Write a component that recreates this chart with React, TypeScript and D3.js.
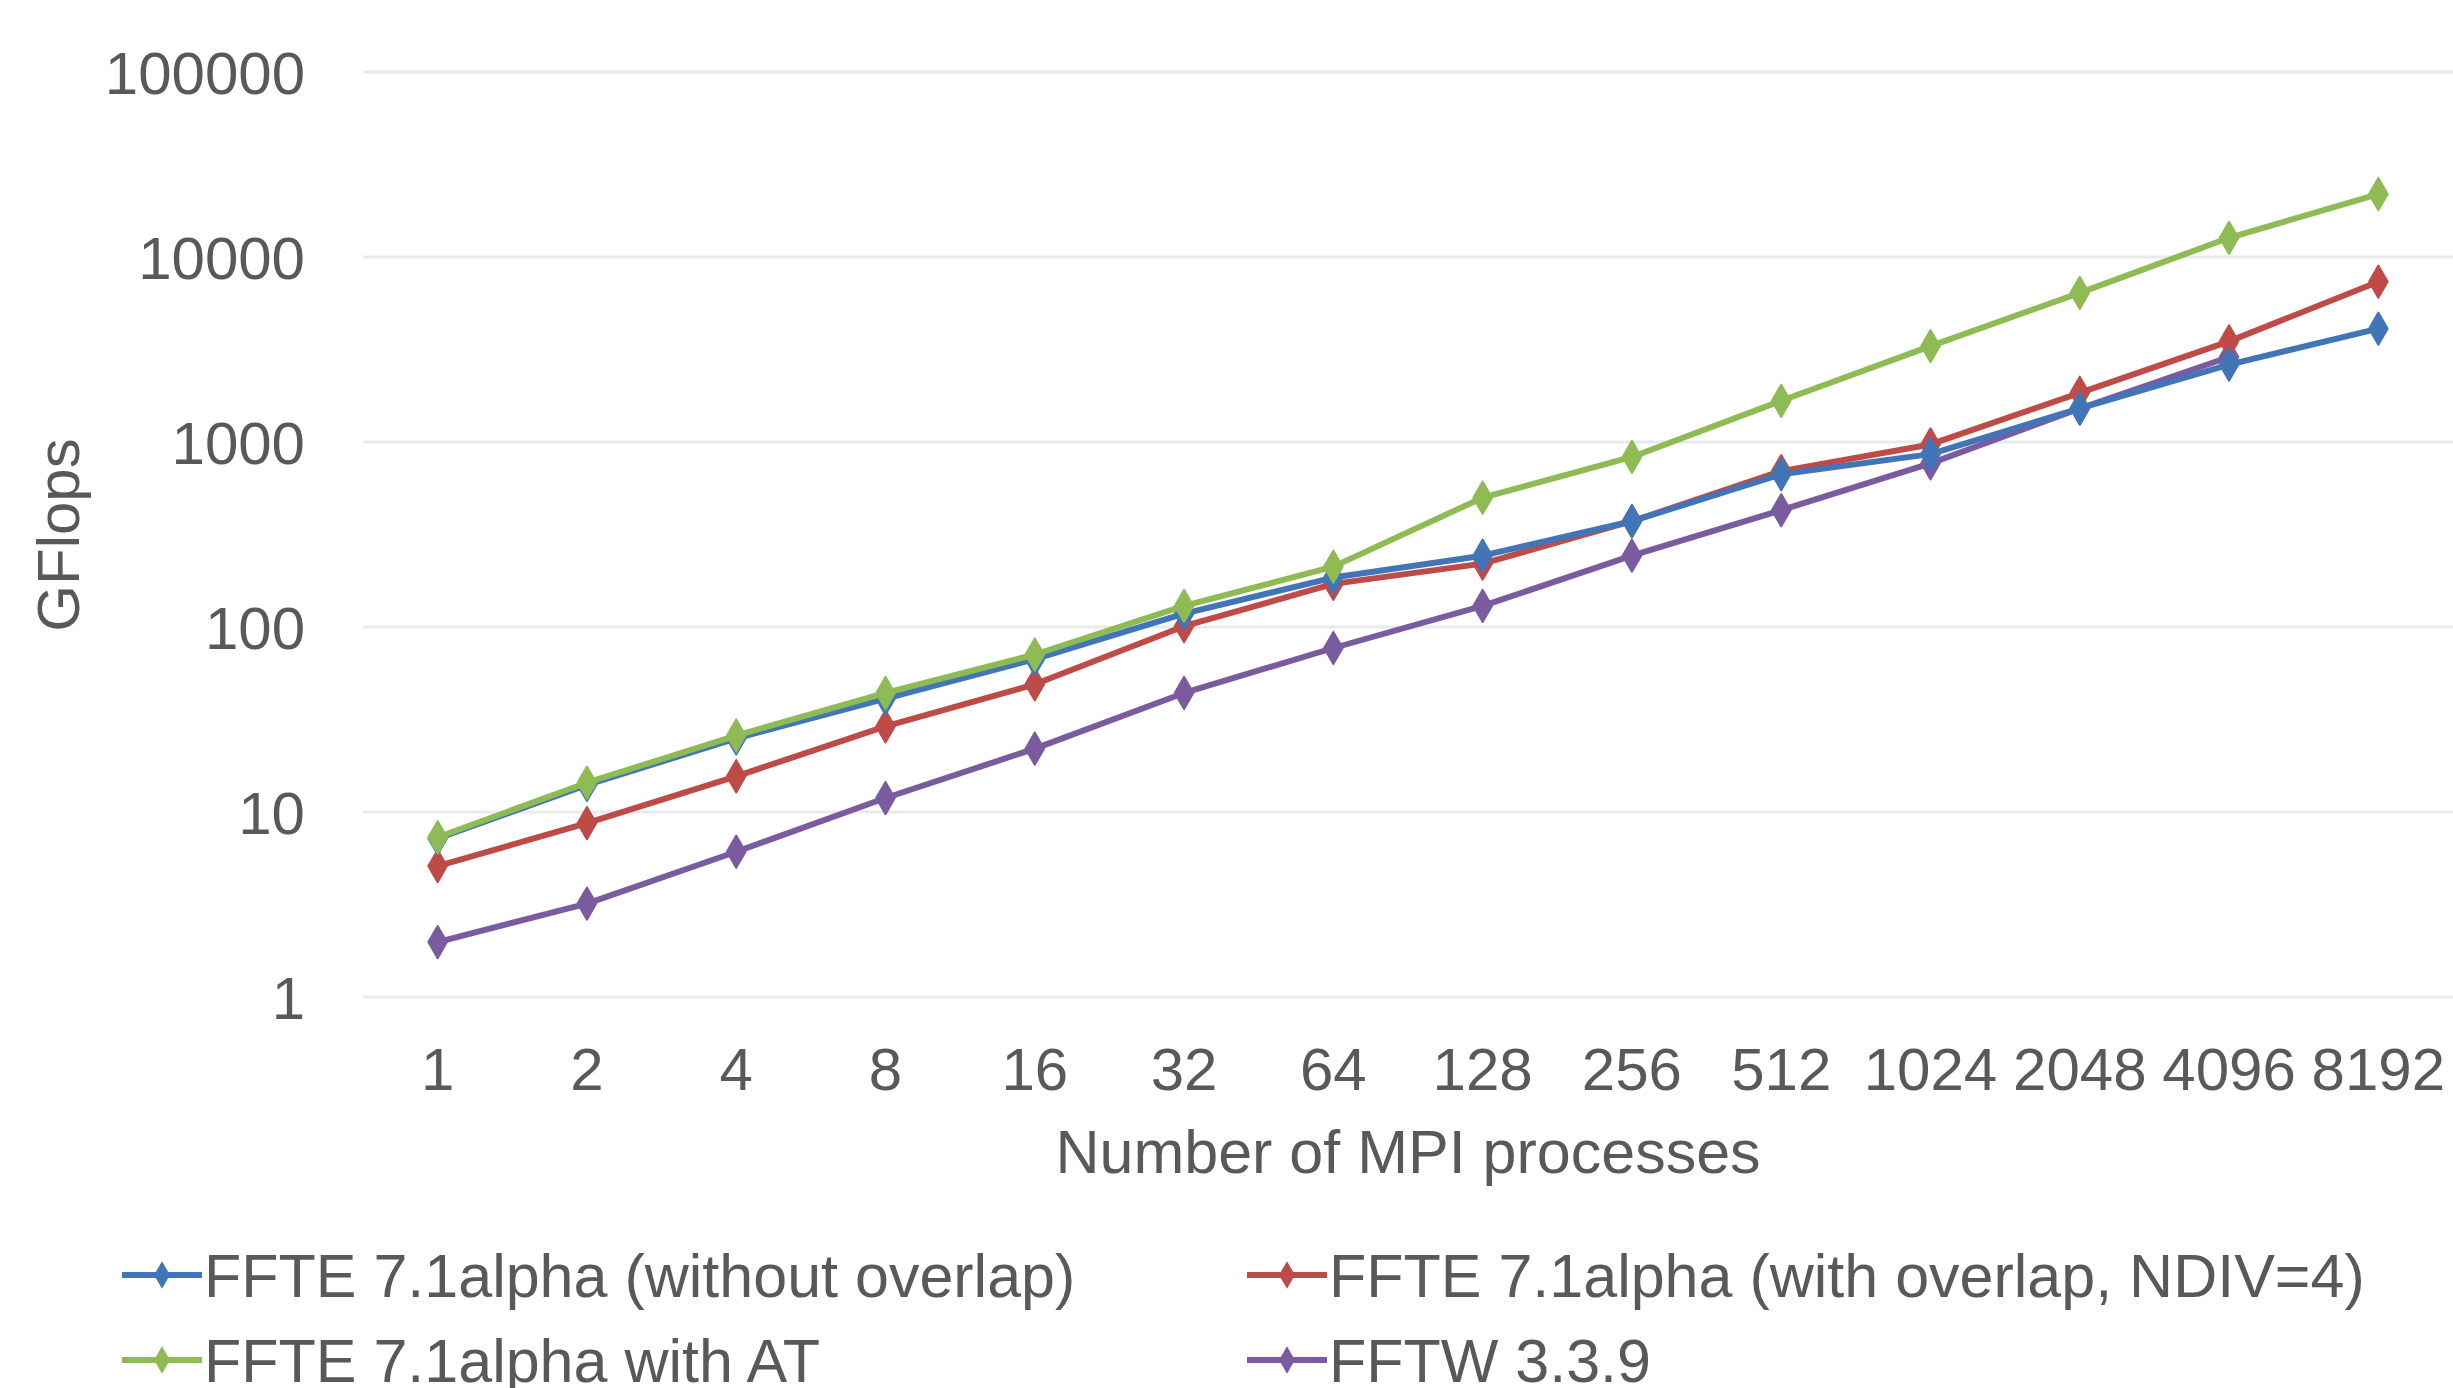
import React, { useEffect, useRef } from "react";
import * as d3 from "d3";

const processes = ["1", "2", "4", "8", "16", "32", "64", "128", "256", "512", "1024", "2048", "4096", "8192"];
const yTicks = [1, 10, 100, 1000, 10000, 100000];

const withoutOverlap = [7.2, 14, 25, 41, 67, 118, 185, 243, 373, 670, 860, 1520, 2620, 4100];
const withOverlap = [5.1, 8.7, 15.6, 29, 49, 101, 171, 220, 373, 696, 970, 1845, 3500, 7350];
const withAT = [7.3, 14.4, 25.9, 44, 71, 130, 212, 500, 830, 1670, 3300, 6400, 12700, 21900];
const fftw = [1.98, 3.2, 6.1, 11.9, 22, 44, 77, 130, 243, 428, 767, 1517, 2880];

const seriesNames = [
  "FFTE 7.1alpha (without overlap)",
  "FFTE 7.1alpha (with overlap, NDIV=4)",
  "FFTE 7.1alpha with AT",
  "FFTW 3.3.9",
];
const seriesColors = ["#4275b8", "#be4b48", "#8fbb55", "#7a5ba0"];

export default function App() {
  const svgRef = useRef<SVGSVGElement>(null);
  const width = 2453;
  const height = 1388;
  const margin = { top: 72, right: 0, bottom: 391, left: 363 };
  const font = "'Liberation Sans', Arial, sans-serif";
  const textColor = "#595959";

  useEffect(() => {
    const svg = d3.select(svgRef.current);
    svg.selectAll("*").remove();

    const x = d3
      .scaleBand()
      .domain(processes)
      .range([margin.left, width - margin.right]);

    const y = d3
      .scaleLog()
      .domain([1, 100000])
      .range([height - margin.bottom, margin.top]);

    // gridlines
    svg
      .append("g")
      .selectAll("line")
      .data(yTicks)
      .enter()
      .append("line")
      .attr("x1", margin.left)
      .attr("x2", width - margin.right)
      .attr("y1", (d) => y(d))
      .attr("y2", (d) => y(d))
      .attr("stroke", "#e7ebeb")
      .attr("stroke-width", 3);

    // y tick labels
    svg
      .append("g")
      .selectAll("text")
      .data(yTicks)
      .enter()
      .append("text")
      .attr("x", 305)
      .attr("y", (d) => y(d))
      .attr("dy", "0.36em")
      .attr("text-anchor", "end")
      .attr("font-family", font)
      .attr("font-size", 60)
      .attr("fill", textColor)
      .text((d) => String(d));

    // x tick labels
    svg
      .append("g")
      .selectAll("text")
      .data(processes)
      .enter()
      .append("text")
      .attr("x", (d) => x(d)! + x.bandwidth() / 2)
      .attr("y", 1090)
      .attr("text-anchor", "middle")
      .attr("font-family", font)
      .attr("font-size", 60)
      .attr("fill", textColor)
      .text((d) => d);

    // axis titles
    svg
      .append("text")
      .attr("x", 1408)
      .attr("y", 1173)
      .attr("text-anchor", "middle")
      .attr("font-family", font)
      .attr("font-size", 61)
      .attr("fill", textColor)
      .text("Number of MPI processes");

    svg
      .append("text")
      .attr("transform", "translate(79,535) rotate(-90)")
      .attr("text-anchor", "middle")
      .attr("font-family", font)
      .attr("font-size", 60)
      .attr("fill", textColor)
      .text("GFlops");

    const allSeries = [withoutOverlap, withOverlap, withAT, fftw];
    const line = d3
      .line<number>()
      .x((d, i) => x(processes[i])! + x.bandwidth() / 2)
      .y((d) => y(d));
    const marker = d3.symbol().type(d3.symbolDiamond).size(300);

    // draw order: purple, red, blue, green (green on top)
    [3, 1, 0, 2].forEach((si) => {
      const data = allSeries[si];
      const g = svg.append("g");
      g.append("path")
        .attr("d", line(data))
        .attr("fill", "none")
        .attr("stroke", seriesColors[si])
        .attr("stroke-width", 6)
        .attr("stroke-linejoin", "round");
      g.selectAll("path.m")
        .data(data)
        .enter()
        .append("path")
        .attr("class", "m")
        .attr("d", marker)
        .attr(
          "transform",
          (d, i) => `translate(${x(processes[i])! + x.bandwidth() / 2},${y(d)})`
        )
        .attr("fill", seriesColors[si])
        .attr("stroke", seriesColors[si])
        .attr("stroke-width", 2)
        .attr("stroke-linejoin", "round");
    });

    // legend
    const legendPos = [
      { x: 122, y: 1275 },
      { x: 1247, y: 1275 },
      { x: 122, y: 1360 },
      { x: 1247, y: 1360 },
    ];
    seriesNames.forEach((name, i) => {
      const p = legendPos[i];
      const g = svg.append("g").attr("transform", `translate(${p.x},${p.y})`);
      g.append("line")
        .attr("x1", 0)
        .attr("x2", 80)
        .attr("stroke", seriesColors[i])
        .attr("stroke-width", 6);
      g.append("path")
        .attr("d", d3.symbol().type(d3.symbolDiamond).size(220))
        .attr("transform", "translate(40,0)")
        .attr("fill", seriesColors[i]);
      g.append("text")
        .attr("x", 82)
        .attr("dy", "0.36em")
        .attr("font-family", font)
        .attr("font-size", 61)
        .attr("fill", textColor)
        .text(name);
    });
  }, []);

  return (
    <div style={{ position: "absolute", left: 0, top: 0 }}>
      <svg ref={svgRef} width={width} height={height} style={{ display: "block", background: "#fff" }} />
    </div>
  );
}
